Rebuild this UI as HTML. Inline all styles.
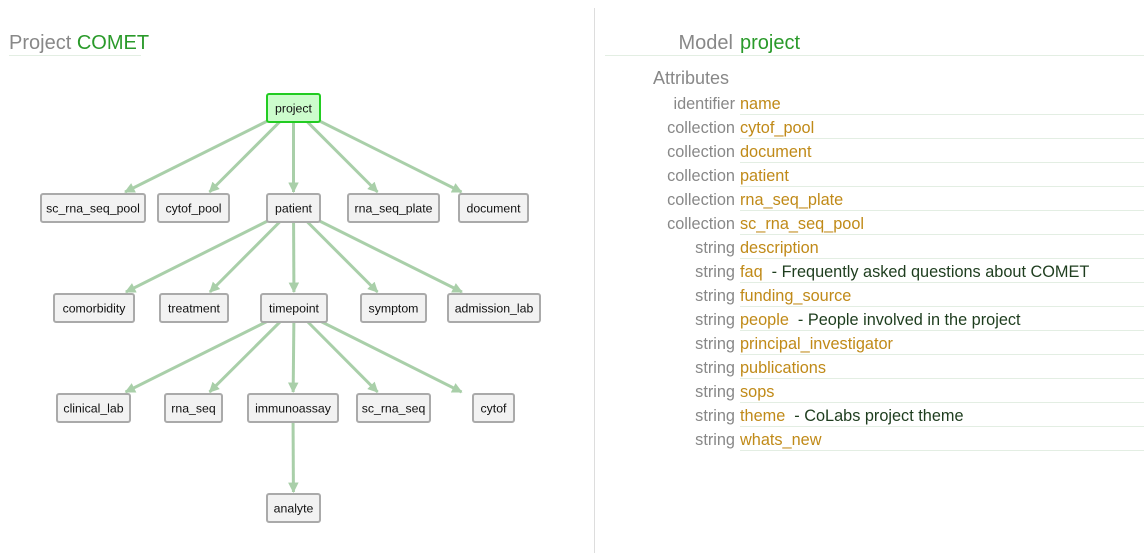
<!DOCTYPE html>
<html><head><meta charset="utf-8"><style>
html,body{margin:0;padding:0;background:#fff;width:1144px;height:553px;overflow:hidden}
svg{display:block}
.n rect{fill:#f2f2f2;stroke:#aaa;stroke-width:2}
.n text{font:12.3px "Liberation Sans",sans-serif;fill:#111;text-anchor:middle}
.k{font:16.3px "Liberation Sans",sans-serif;fill:#888;text-anchor:end}
.v{font:16.3px "Liberation Sans",sans-serif;fill:#c08a18}
.d{font:16.3px "Liberation Sans",sans-serif;fill:#1e3d1e}
.u{stroke:#e3eee3;stroke-width:1}
</style></head><body>
<svg id="s" width="1144" height="553" xmlns="http://www.w3.org/2000/svg">
<defs><marker id="a" viewBox="0 0 10 10" refX="9" refY="5" markerWidth="3.5" markerHeight="3.5" orient="auto"><path d="M0,0L10,5L0,10z" fill="#a9cfa9"/></marker></defs>
<line x1="594.5" y1="8" x2="594.5" y2="553" stroke="#ddd"/>
<text x="9" y="49" style="font:20px 'Liberation Sans',sans-serif"><tspan fill="#888">Project </tspan><tspan fill="#2a9a2a">COMET</tspan></text>
<line class="u" x1="9" y1="55.5" x2="141" y2="55.5"/>
<text x="733" y="49" text-anchor="end" style="font:20px 'Liberation Sans',sans-serif" fill="#888">Model</text>
<text x="740" y="49" style="font:20px 'Liberation Sans',sans-serif" fill="#2a9a2a">project</text>
<line class="u" x1="605" y1="55.5" x2="1144" y2="55.5"/>
<text x="729" y="84" class="k" style="font-size:18px">Attributes</text>
<g id="edges"></g>
<g id="nodes"></g>
<g id="attrs"></g>
</svg>
<script>
var N={project:[267,94,53],sc_rna_seq_pool:[41,194,104],cytof_pool:[158,194,71],patient:[267,194,53],rna_seq_plate:[348,194,91],document:[459,194,69],
comorbidity:[54,294,80],treatment:[160,294,68],timepoint:[261,294,66],symptom:[361,294,65],admission_lab:[448,294,92],
clinical_lab:[57,394,73],rna_seq:[165,394,57],immunoassay:[248,394,90],sc_rna_seq:[357,394,73],cytof:[473,394,41],analyte:[267,494,53]};
var E=[["project",["sc_rna_seq_pool","cytof_pool","patient","rna_seq_plate","document"]],["patient",["comorbidity","treatment","timepoint","symptom","admission_lab"]],["timepoint",["clinical_lab","rna_seq","immunoassay","sc_rna_seq","cytof"]],["immunoassay",["analyte"]]];
var ns="http://www.w3.org/2000/svg";
function el(t,a,p){var e=document.createElementNS(ns,t);for(var k in a)e.setAttribute(k,a[k]);p.appendChild(e);return e;}
var eg=document.getElementById("edges"),ng=document.getElementById("nodes");
E.forEach(function(g){var p=N[g[0]],px=p[0]+p[2]/2,py=p[1]+14;g[1].forEach(function(c){var q=N[c],cx=q[0]+q[2]/2,cy=q[1]+14;var t=(q[1]-2-py)/(cy-py);el("line",{x1:px,y1:py,x2:px+(cx-px)*t,y2:q[1]-2,stroke:"#a9cfa9","stroke-width":3,"marker-end":"url(#a)"},eg);});});
for(var k in N){var q=N[k];var g=el("g",{"class":"n"},ng);var r=el("rect",{x:q[0],y:q[1],width:q[2],height:28,rx:2},g);if(k=="project"){r.setAttribute("style","fill:#ccfccc;stroke:#22cc22");}var t=el("text",{x:q[0]+q[2]/2,y:q[1]+18.5},g);t.textContent=k;}
var A=[["identifier","name"],["collection","cytof_pool"],["collection","document"],["collection","patient"],["collection","rna_seq_plate"],["collection","sc_rna_seq_pool"],["string","description"],["string","faq","- Frequently asked questions about COMET"],["string","funding_source"],["string","people","- People involved in the project"],["string","principal_investigator"],["string","publications"],["string","sops"],["string","theme","- CoLabs project theme"],["string","whats_new"]];
var ag=document.getElementById("attrs");
A.forEach(function(a,i){var y=109+24*i;var t=el("text",{x:735,y:y,"class":"k"},ag);t.textContent=a[0];var v=el("text",{x:740,y:y,"class":"v"},ag);v.textContent=a[1];if(a[2]){var w=v.getComputedTextLength();var d=el("text",{x:740+w+9,y:y,"class":"d"},ag);d.textContent=a[2];}el("line",{x1:740,y1:y+5.5,x2:1144,y2:y+5.5,"class":"u"},ag);});
</script>
</body></html>
